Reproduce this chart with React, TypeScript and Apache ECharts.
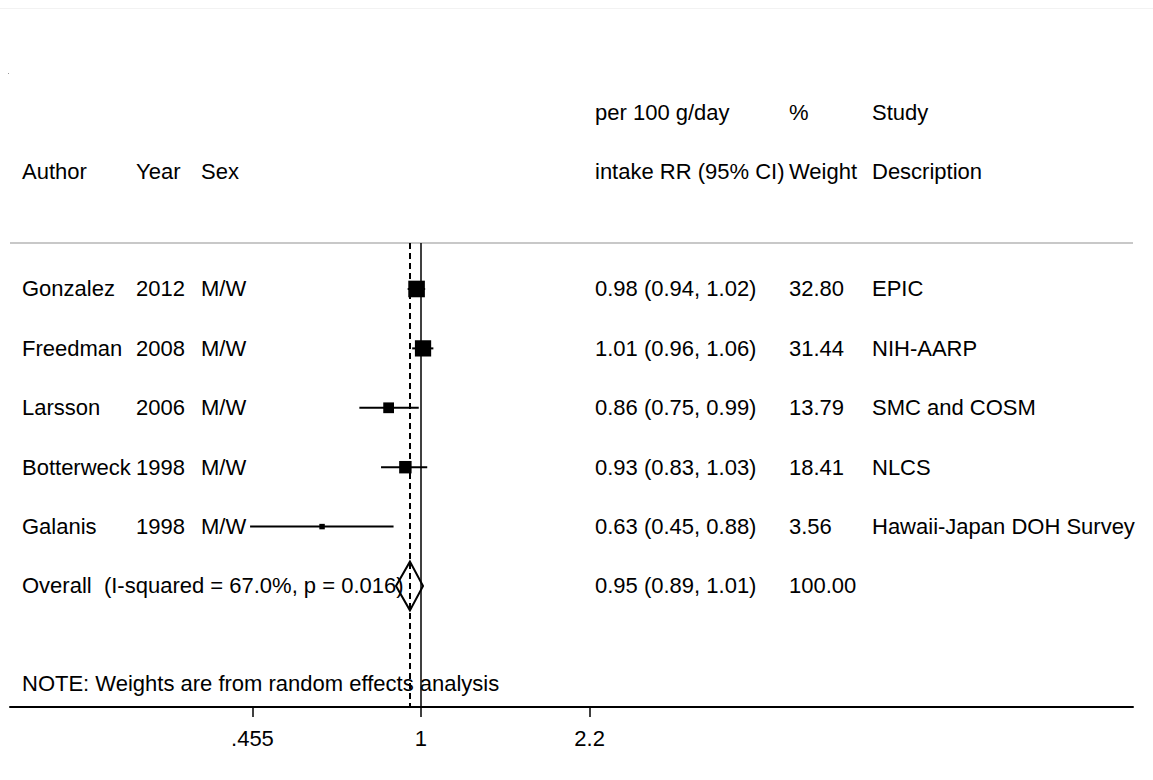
import React, { useEffect, useRef } from "react";
import * as echarts from "echarts";

// ---- data ----
const authors = ["Gonzalez", "Freedman", "Larsson", "Botterweck", "Galanis"];
const years = ["2012", "2008", "2006", "1998", "1998"];
const sexes = ["M/W", "M/W", "M/W", "M/W", "M/W"];
const rr = [0.98, 1.01, 0.86, 0.93, 0.63];
const lower = [0.94, 0.96, 0.75, 0.83, 0.45];
const upper = [1.02, 1.06, 0.99, 1.03, 0.88];
const weights = [32.8, 31.44, 13.79, 18.41, 3.56];
const studyDesc = ["EPIC", "NIH-AARP", "SMC and COSM", "NLCS", "Hawaii-Japan DOH Survey"];
const overallLabel = "Overall  (I-squared = 67.0%, p = 0.016)";
const overallRR = 0.95;
const overallLower = 0.89;
const overallUpper = 1.01;
const overallWeight = 100.0;
const noteText = "NOTE: Weights are from random effects analysis";
const headerTop = ["per 100 g/day", "%", "Study"];
const headerBottom = ["Author", "Year", "Sex", "intake RR (95% CI)", "Weight", "Description"];
const tickValues = [0.455, 1, 2.2];
const tickLabels = [".455", "1", "2.2"];
const xRangeRR = [0.1465, 27.9];

const FONT = '"Liberation Sans", Arial, Helvetica, sans-serif';
const FS = 22;
const COLX = { author: 22, year: 136, sex: 201, rr: 595, weight: 789, desc: 872 };

const fmt2 = (v: number) => v.toFixed(2);

export default function App() {
  const ref = useRef<HTMLDivElement>(null);
  useEffect(() => {
    document.body.style.margin = "0";
    if (!ref.current) return;
    const chart = echarts.init(ref.current, undefined, { renderer: "svg" });
    const ln = Math.log;
    const nStudy = authors.length;
    const overallRow = nStudy;

    const tableRows = authors.map((a, i) => ({
      value: [0, i],
      cells: [
        [COLX.author, a],
        [COLX.year, years[i]],
        [COLX.sex, sexes[i]],
        [COLX.rr, `${fmt2(rr[i])} (${fmt2(lower[i])}, ${fmt2(upper[i])})`],
        [COLX.weight, fmt2(weights[i])],
        [COLX.desc, studyDesc[i]],
      ],
    }));
    tableRows.push({
      value: [0, overallRow],
      cells: [
        [COLX.author, overallLabel],
        [COLX.rr, `${fmt2(overallRR)} (${fmt2(overallLower)}, ${fmt2(overallUpper)})`],
        [COLX.weight, fmt2(overallWeight)],
      ],
    });

    const textStyle = (text: string, x: number, y: number) => ({
      text,
      x,
      y,
      fill: "#000",
      fontSize: FS,
      fontFamily: FONT,
      align: "left",
      textAlign: "left",
      verticalAlign: "middle",
      textVerticalAlign: "middle",
    });

    const option: any = {
      animation: false,
      backgroundColor: "#fff",
      grid: { left: 10, right: 20, top: 243, bottom: 73, containLabel: false },
      xAxis: {
        type: "value",
        min: ln(xRangeRR[0]),
        max: ln(xRangeRR[1]),
        axisLine: { show: true, onZero: false, lineStyle: { color: "#000", width: 2 } },
        axisTick: {
          show: true,
          customValues: tickValues.map((v) => ln(v)),
          length: 10,
          lineStyle: { color: "#000", width: 1.5 },
        },
        axisLabel: {
          show: true,
          customValues: tickValues.map((v) => ln(v)),
          margin: 20,
          color: "#000",
          fontSize: FS,
          fontFamily: FONT,
          formatter: (v: number) => {
            let best = 0;
            tickValues.forEach((t, k) => {
              if (Math.abs(ln(t) - v) < Math.abs(ln(tickValues[best]) - v)) best = k;
            });
            return tickLabels[best];
          },
        },
        splitLine: { show: false },
      },
      yAxis: {
        type: "value",
        inverse: true,
        min: -0.774,
        max: 7.037,
        show: false,
        splitLine: { show: false },
      },
      series: [
        {
          name: "refLines",
          type: "line",
          data: [],
          z: 1,
          markLine: {
            silent: true,
            symbol: ["none", "none"],
            label: { show: false },
            animation: false,
            data: [
              { xAxis: ln(1), lineStyle: { color: "#000", width: 1.5, type: "solid", opacity: 1 } },
              { xAxis: ln(overallRR), lineStyle: { color: "#000", width: 2, type: [6, 4], opacity: 1 } },
            ],
          },
        },
        {
          name: "ci",
          type: "custom",
          z: 2,
          data: rr.map((_, i) => [ln(lower[i]), ln(upper[i]), i]),
          renderItem: (params: any, api: any) => {
            const p1 = api.coord([api.value(0), api.value(2)]);
            const p2 = api.coord([api.value(1), api.value(2)]);
            return {
              type: "line",
              shape: { x1: p1[0], y1: p1[1], x2: p2[0], y2: p2[1] },
              style: { stroke: "#000", lineWidth: 2 },
            };
          },
        },
        {
          name: "estimates",
          type: "scatter",
          z: 3,
          symbol: "rect",
          symbolSize: (val: number[]) => Math.sqrt(val[2]) * 2.9,
          itemStyle: { color: "#000", opacity: 1 },
          data: rr.map((v, i) => [ln(v), i, weights[i]]),
        },
        {
          name: "overall",
          type: "custom",
          z: 4,
          data: [[ln(overallLower), ln(overallRR), ln(overallUpper), overallRow]],
          renderItem: (params: any, api: any) => {
            const row = api.value(3);
            const h = 0.41;
            const pl = api.coord([api.value(0), row]);
            const pt = api.coord([api.value(1), row - h]);
            const pr = api.coord([api.value(2), row]);
            const pb = api.coord([api.value(1), row + h]);
            return {
              type: "polygon",
              shape: { points: [pl, pt, pr, pb] },
              style: { fill: "none", stroke: "#000", lineWidth: 2 },
            };
          },
        },
        {
          name: "table",
          type: "custom",
          z: 5,
          clip: false,
          data: tableRows,
          renderItem: (params: any, api: any) => {
            const row = tableRows[params.dataIndex];
            const y = api.coord([0, api.value(1)])[1];
            return {
              type: "group",
              children: row.cells.map((c: any) => ({
                type: "text",
                style: textStyle(c[1], c[0], y),
              })),
            };
          },
        },
      ],
      graphic: [
        { type: "rect", shape: { x: 0, y: 8, width: 1153, height: 1 }, style: { fill: "#f2f2f2" } },
        { type: "rect", shape: { x: 8, y: 73, width: 1, height: 1 }, style: { fill: "#999" } },
        {
          type: "line",
          shape: { x1: 10, y1: 243, x2: 1133, y2: 243 },
          style: { stroke: "#c8c8c8", lineWidth: 2 },
        },
        { type: "text", style: textStyle(headerTop[0], COLX.rr, 112) },
        { type: "text", style: textStyle(headerTop[1], COLX.weight, 112) },
        { type: "text", style: textStyle(headerTop[2], COLX.desc, 112) },
        { type: "text", style: textStyle(headerBottom[0], COLX.author, 171) },
        { type: "text", style: textStyle(headerBottom[1], COLX.year, 171) },
        { type: "text", style: textStyle(headerBottom[2], COLX.sex, 171) },
        { type: "text", style: textStyle(headerBottom[3], COLX.rr, 171) },
        { type: "text", style: textStyle(headerBottom[4], COLX.weight, 171) },
        { type: "text", style: textStyle(headerBottom[5], COLX.desc, 171) },
        { type: "text", z: 10, style: textStyle(noteText, COLX.author, 683) },
      ],
    };
    chart.setOption(option);
    return () => chart.dispose();
  }, []);
  return <div ref={ref} style={{ width: 1153, height: 780 }} />;
}
